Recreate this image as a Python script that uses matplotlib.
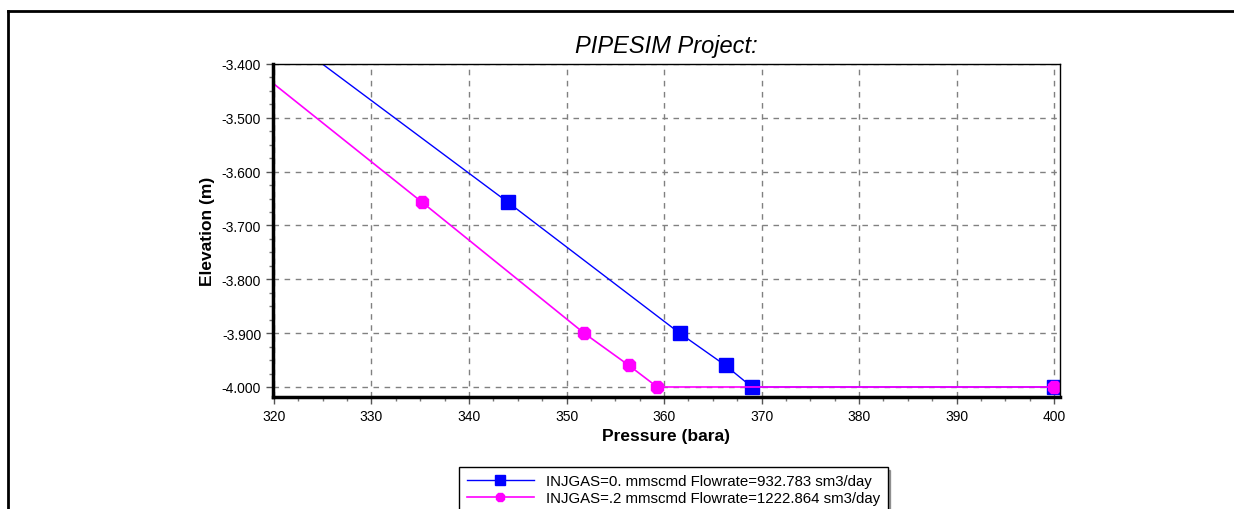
import matplotlib.pyplot as plt
from matplotlib.lines import Line2D
from matplotlib.ticker import MultipleLocator, FuncFormatter

plt.rcParams['font.family'] = ['Liberation Sans', 'DejaVu Sans']

# Dati (pressione in bara, quota in m)
p_gas0 = [318.0, 344.0, 361.6, 366.3, 369.0, 400.0]
z_gas0 = [-3306, -3657, -3900, -3960, -4000, -4000]
p_gas2 = [313.0, 335.2, 351.8, 356.4, 359.3, 400.0]
z_gas2 = [-3336, -3657, -3900, -3960, -4000, -4000]

label_gas0 = "INJGAS=0. mmscmd Flowrate=932.783 sm3/day"
label_gas2 = "INJGAS=.2 mmscmd Flowrate=1222.864 sm3/day"

fig = plt.figure(figsize=(12.34, 5.10), dpi=100)
ax = fig.add_axes([273 / 1234, 1 - 398 / 510, 787 / 1234, 333 / 510])

ax.plot(p_gas0, z_gas0, color='#0000FF', lw=1, marker='s', ms=10,
        markevery=list(range(1, len(p_gas0))), label=label_gas0, clip_on=True)
ax.plot(p_gas2, z_gas2, color='#FF00FF', lw=1.2, marker='8', ms=10,
        markevery=list(range(1, len(p_gas2))), label=label_gas2, clip_on=True)

ax.set_xlim(319.9, 400.6)
ax.set_ylim(-4018.6, -3400)

ax.xaxis.set_major_locator(MultipleLocator(10))
ax.xaxis.set_minor_locator(MultipleLocator(2.5))
ax.yaxis.set_major_locator(MultipleLocator(100))
ax.yaxis.set_minor_locator(MultipleLocator(25))
ax.yaxis.set_major_formatter(FuncFormatter(lambda v, pos: f"{v:,.0f}".replace(",", ".")))

ax.tick_params(which='major', length=5, width=1, labelsize=10, direction='out', color='#555555')
ax.tick_params(which='minor', length=3, width=1, direction='out', color='#777777')

ax.grid(True, which='major', color='#808080', linestyle=(0, (4, 4)), lw=1)

for side in ['left', 'bottom']:
    ax.spines[side].set_linewidth(2.5)
for side in ['top', 'right']:
    ax.spines[side].set_linewidth(1)

ax.set_title("PIPESIM Project:", fontsize=17, style='italic', pad=9)
ax.set_xlabel("Pressure (bara)", fontsize=12.5, fontweight='bold', labelpad=4)
ax.set_ylabel("Elevation (m)", fontsize=12.5, fontweight='bold', labelpad=5)

# Legenda sotto il grafico, con ombra
handles = [Line2D([], [], color='#0000FF', lw=1, marker='s', ms=7),
           Line2D([], [], color='#FF00FF', lw=1.2, marker='8', ms=7)]
leg = fig.legend(handles, [label_gas0, label_gas2], loc='upper left',
                 bbox_to_anchor=(459 / 1234, 1 - 468 / 510), fontsize=10.8,
                 frameon=True, fancybox=False, shadow=True, handlelength=4.5,
                 borderpad=0.5, labelspacing=0.2, handletextpad=0.8, borderaxespad=0)
leg.get_frame().set_edgecolor('black')
leg.get_frame().set_linewidth(1)

# Cornice esterna
fig.add_artist(Line2D([8 / 1234, 1], [1 - 12 / 510, 1 - 12 / 510], color='black', lw=2,
                      transform=fig.transFigure))
fig.add_artist(Line2D([8 / 1234, 8 / 1234], [0, 1 - 12 / 510], color='black', lw=2,
                      transform=fig.transFigure))

plt.savefig("out.png", dpi=100)
plt.close()
